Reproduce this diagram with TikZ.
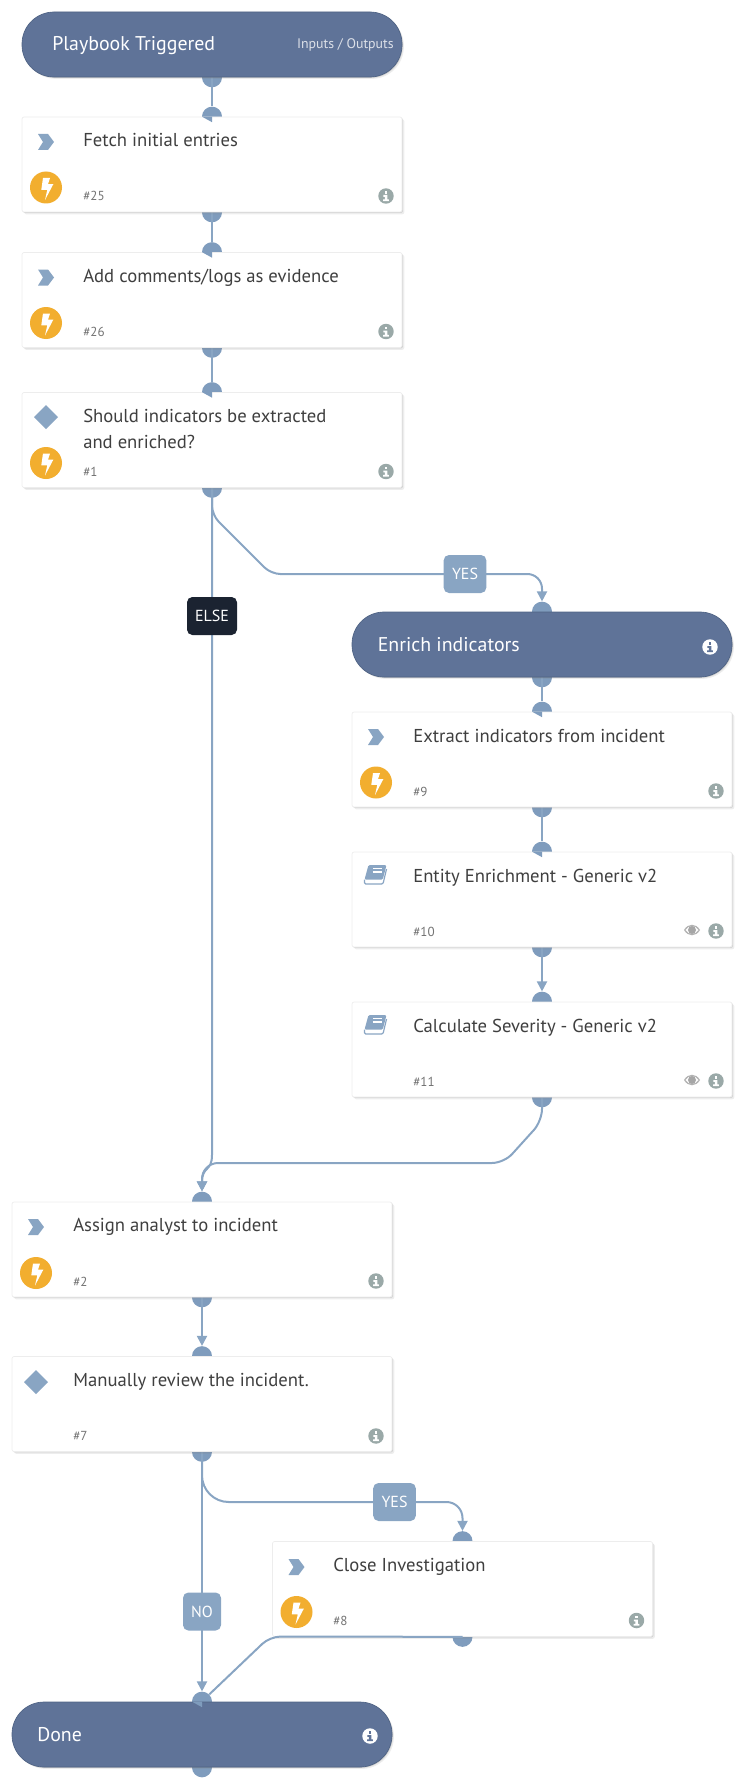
\documentclass[tikz,border=0pt]{standalone}
\usepackage{fontspec}
\setmainfont{PT Sans}
\usetikzlibrary{arrows.meta,shadows,backgrounds}

\definecolor{pillblue}{HTML}{5F7398}
\definecolor{pilledge}{HTML}{4F6384}
\definecolor{linkblue}{HTML}{89A5C3}
\definecolor{portblue}{HTML}{7F9CBD}
\definecolor{boltorange}{HTML}{F2AE2F}
\definecolor{infogrey}{HTML}{9AA9A8}
\definecolor{inkgrey}{HTML}{3F3F3F}
\definecolor{elsedark}{HTML}{1B2331}

\tikzset{
    pill/.style={rectangle, minimum width=285pt, minimum height=48.75pt, rounded corners=24pt,
        fill=pillblue, draw=pilledge, line width=.5pt, inner sep=0pt,
        drop shadow={shadow xshift=.6pt, shadow yshift=-.6pt, opacity=.3},
        drop shadow={shadow xshift=1.4pt, shadow yshift=-1.4pt, opacity=.15}},
    task/.style={rectangle, minimum width=285pt, minimum height=71.25pt, rounded corners=1.5pt,
        fill=white, draw=black!7, line width=.5pt, inner sep=0pt,
        drop shadow={shadow xshift=.7pt, shadow yshift=-.7pt, opacity=.25},
        drop shadow={shadow xshift=1.7pt, shadow yshift=-1.7pt, opacity=.14}},
    port/.style={circle, minimum size=15pt, inner sep=0pt, fill=portblue},
    link/.style={draw=linkblue, line width=1.5pt},
    head/.style={-{Triangle[width=7.5pt,length=7.5pt]}},
    flag/.style={rectangle, rounded corners=4pt, fill=linkblue, text=white, inner sep=0pt,
        minimum height=28.5pt, font=\fontsize{12}{14}\selectfont},
    caption/.style={anchor=base west, inner sep=0pt, text=inkgrey, font=\fontsize{14}{19.5}\selectfont},
    bigcaption/.style={anchor=base west, inner sep=0pt, text=white, font=\fontsize{14.9}{17}\selectfont},
    smallcaption/.style={anchor=base west, inner sep=0pt, text=black!55, font=\fontsize{9.8}{12}\selectfont},
    bolt/.pic={
        \fill[boltorange] (0,0) circle (12pt);
        \fill[white] (-3,-9.5) -- (4,-9.5) -- (2,-3.3) -- (7.3,-3.3) -- (-1,12.5) -- (1.3,2.3) -- (-4.7,2.3) -- cycle;
    },
    chevronmark/.pic={
        \fill[linkblue] (-8,-8) -- (2,-8) -- (8,0) -- (2,8) -- (-8,8) -- (-3,0) -- cycle;
    },
    diamondmark/.pic={
        \fill[linkblue] (-12,0) -- (0,-12) -- (12,0) -- (0,12) -- cycle;
    },
    bookmark/.pic={
        \fill[linkblue, rounded corners=1pt] (-7.5,-10) -- (10.5,-10) -- (6.7,4.7) -- (-11.5,4.7) -- cycle;
        \draw[linkblue, line width=.9pt, rounded corners=1pt] (-11.5,4.7) -- (-11.5,9) -- (7,9) -- (10.5,-6);
        \draw[white, line width=.9pt] (-3,-6.5) -- (6,-6.5) (-3.5,-3) -- (5.5,-3);
    },
    infomark/.pic={
        \fill[infogrey] (0,0) circle (5.8pt);
        \fill[white] (-1.2,-5) rectangle (1.4,-2.4);
        \fill[white] (-2.6,-1) -- (1.4,-1) -- (1.4,3.4) -- (2.8,3.4) -- (2.8,5.2) -- (-2.8,5.2) -- (-2.8,3.4) -- (-1.2,3.4) -- (-1.2,.8) -- (-2.6,.8) -- cycle;
    },
    whiteinfo/.pic={
        \fill[white] (0,0) circle (5.8pt);
        \fill[pillblue] (-1.2,-5) rectangle (1.4,-2.4);
        \fill[pillblue] (-2.6,-1) -- (1.4,-1) -- (1.4,3.4) -- (2.8,3.4) -- (2.8,5.2) -- (-2.8,5.2) -- (-2.8,3.4) -- (-1.2,3.4) -- (-1.2,.8) -- (-2.6,.8) -- cycle;
    },
    eyemark/.pic={
        \fill[black!30] (-8,0) .. controls (-4,-7) and (4,-7) .. (8,0) .. controls (4,7) and (-4,7) .. (-8,0) -- cycle;
        \fill[white] (-6.5,0) .. controls (-3,-5) and (3,-5) .. (6.5,0) .. controls (3,5) and (-3,5) .. (-6.5,0) -- cycle;
        \fill[black!35] (0,0) circle (3pt);
    },
    notch/.pic={
        \fill[portblue] (-10,0) -- (0,0) -- (0,5.5) -- cycle;
    },
}

\begin{document}
\begin{tikzpicture}[x=.75pt, y=-.75pt]
    \useasboundingbox (0,0) rectangle (744,1787);

    % boxes
    \node[pill] (trigger)  at (212,44.5)  {};
    \node[task] (fetch)    at (212,164.5) {};
    \node[task] (comments) at (212,300)   {};
    \node[task] (should)   at (212,440)   {};
    \node[pill] (enrich)   at (542,644.5) {};
    \node[task] (extract)  at (542,759.5) {};
    \node[task] (entity)   at (542,899.5) {};
    \node[task] (severity) at (542,1049.5) {};
    \node[task] (assign)   at (202,1249.5) {};
    \node[task] (review)   at (202,1404) {};
    \node[task] (closeinv) at (462.5,1589) {};
    \node[pill] (done)     at (202,1734.5) {};

    % ports and links sit behind the boxes
    \begin{scope}[on background layer]
        \node[port] (triggerB)  at (trigger.south) {};
        \node[port] (fetchT)    at (fetch.north) {};
        \node[port] (fetchB)    at (fetch.south) {};
        \node[port] (commentsT) at (comments.north) {};
        \node[port] (commentsB) at (comments.south) {};
        \node[port] (shouldT)   at (should.north) {};
        \node[port] (shouldB)   at (should.south) {};
        \node[port] (enrichT)   at (enrich.north) {};
        \node[port] (enrichB)   at (enrich.south) {};
        \node[port] (extractT)  at (extract.north) {};
        \node[port] (extractB)  at (extract.south) {};
        \node[port] (entityT)   at (entity.north) {};
        \node[port] (entityB)   at (entity.south) {};
        \node[port] (severityT) at (severity.north) {};
        \node[port] (severityB) at (severity.south) {};
        \node[port] (assignT)   at (assign.north) {};
        \node[port] (assignB)   at (assign.south) {};
        \node[port] (reviewT)   at (review.north) {};
        \node[port] (reviewB)   at (review.south) {};
        \node[port] (closeT)    at (closeinv.north) {};
        \node[port] (closeB)    at (closeinv.south) {};
        \node[port] (doneT)     at (done.north) {};
        \node[port] (doneB)     at (done.south) {};

        \draw[link] (trigger.south) -- (fetchT);
        \draw[link] (fetch.south) -- (commentsT);
        \draw[link] (comments.south) -- (shouldT);
        \draw[link] (enrich.south) -- (extractT);
        \draw[link] (extract.south) -- (entityT);
        \draw[link,head] (entity.south) -- (severityT.north);
        \draw[link,head] (assign.south) -- (reviewT.north);
        \draw[link,head] (review.south) -- (doneT.north);
        \draw[link,head] (should.south) -- (212,1155) .. controls (212,1172) and (202,1166) .. (assignT.north);
        \draw[link,head] (severity.south) [rounded corners=9pt] -- (542,1121) -- (504,1163) [rounded corners=12pt] -- (202,1163) -- (assignT.north);
        \draw[link,head] (should.south) [rounded corners=7pt] -- (212,515) -- (271,574) [rounded corners=11pt] -- (542,574) -- (enrichT.north);
        \draw[link,head] (review.south) [rounded corners=20pt] -- (202,1502) [rounded corners=12pt] -- (462.5,1502) -- (closeT.north);
    \end{scope}

    \draw[link,rounded corners=8pt] (closeinv.south) -- (270,1636.5) -- (doneT.45);

    % arrow tips that turned inside the ports
    \pic at (fetch.north) {notch};
    \pic at (comments.north) {notch};
    \pic at (should.north) {notch};
    \pic at (extract.north) {notch};
    \pic at (entity.north) {notch};
    \pic at (done.north) {notch};

    % flags on the links
    \node[flag,minimum width=37.5pt,fill=elsedark] (elseflag) at (212,616) {ELSE};
    \node[flag,minimum width=32pt] (yesflag)  at (465,574)  {YES};
    \node[flag,minimum width=32pt] (passflag) at (394.5,1502) {YES};
    \node[flag,minimum width=28.5pt] (noflag) at (202,1611.5) {NO};

    % header texts
    \node[bigcaption] (triggertext) at (52,51) {Playbook Triggered};
    \node[anchor=base east, inner sep=0pt, text=white!78!pillblue, font=\fontsize{10.4}{12}\selectfont] (iotext) at (394,49) {Inputs / Outputs};
    \node[bigcaption] (enrichtext) at (377.5,651) {Enrich indicators};
    \node[bigcaption] (donetext) at (37,1741) {Done};

    % task texts
    \node[caption] (fetchtext) at (83,147) {Fetch initial entries};
    \node[caption] (commentstext) at (83,282.5) {Add comments/logs as evidence};
    \node[caption] (shouldtext) at (83,422.5) {Should indicators be extracted};
    \node[caption] (shouldmore) at (83,448.5) {and enriched?};
    \node[caption] (extracttext) at (413,742) {Extract indicators from incident};
    \node[caption] (entitytext) at (413,882) {Entity Enrichment - Generic v2};
    \node[caption] (severitytext) at (413,1032) {Calculate Severity - Generic v2};
    \node[caption] (assigntext) at (73,1231.5) {Assign analyst to incident};
    \node[caption] (reviewtext) at (73,1386.5) {Manually review the incident.};
    \node[caption] (closetext) at (333,1571.5) {Close Investigation};

    % numbers
    \node[smallcaption] (fetchno) at (83,201) {\#25};
    \node[smallcaption] (commentsno) at (83,336.5) {\#26};
    \node[smallcaption] (shouldno) at (83,476.5) {\#1};
    \node[smallcaption] (extractno) at (413,796) {\#9};
    \node[smallcaption] (entityno) at (413,936) {\#10};
    \node[smallcaption] (severityno) at (413,1086) {\#11};
    \node[smallcaption] (assignno) at (73,1286) {\#2};
    \node[smallcaption] (reviewno) at (73,1440.5) {\#7};
    \node[smallcaption] (closeno) at (333,1625.5) {\#8};

    % icons
    \pic at (46,142) {chevronmark};
    \pic at (46,277.5) {chevronmark};
    \pic at (46,417) {diamondmark};
    \pic at (376,737) {chevronmark};
    \pic at (376,875) {bookmark};
    \pic at (376,1025) {bookmark};
    \pic at (36,1227) {chevronmark};
    \pic at (36,1382) {diamondmark};
    \pic at (296.5,1567) {chevronmark};

    \pic at (46,187.5) {bolt};
    \pic at (46,323) {bolt};
    \pic at (46,463) {bolt};
    \pic at (376,782.5) {bolt};
    \pic at (36,1273) {bolt};
    \pic at (296.5,1612) {bolt};

    \pic at (386,196) {infomark};
    \pic at (386,331.5) {infomark};
    \pic at (386,471.5) {infomark};
    \pic at (716,791) {infomark};
    \pic at (716,931) {infomark};
    \pic at (716,1081) {infomark};
    \pic at (376,1281) {infomark};
    \pic at (376,1436) {infomark};
    \pic at (636.5,1620.5) {infomark};
    \pic at (710,647) {whiteinfo};
    \pic at (370,1736) {whiteinfo};

    \pic at (692,930) {eyemark};
    \pic at (692,1080) {eyemark};
\end{tikzpicture}
\end{document}
